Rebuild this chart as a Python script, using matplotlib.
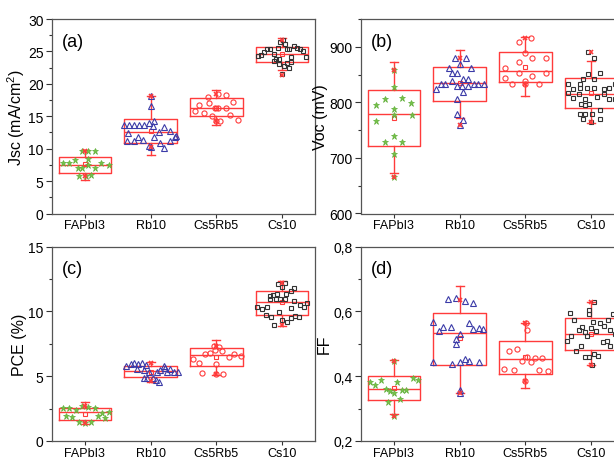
import matplotlib
matplotlib.use("Agg")
import matplotlib.pyplot as plt
from matplotlib.ticker import AutoMinorLocator, MultipleLocator, FuncFormatter

plt.rcParams['font.family'] = ['Liberation Sans', 'DejaVu Sans']
plt.rcParams['mathtext.default'] = 'regular'

categories = ["FAPbI3", "Rb10", "Cs5Rb5", "Cs10"]

# ---------------- Jsc ----------------
jsc_fa = [7.72, 7.72, 8.18, 8.39, 7.82, 7.46, 6.95, 6.95, 6.95, 7.51, 9.68, 9.68, 9.68, 5.82, 5.92, 5.82]
jsc_rb = [18.17, 16.52, 13.64, 13.64, 13.64, 13.64, 13.64, 13.95, 14.26, 13.43, 13.28, 12.35, 12.51,
          12.76, 11.99, 11.73, 11.73, 11.73, 11.22, 11.22, 11.32, 11.22, 10.45, 10.86, 10.09, 10.19]
jsc_csrb = [16.73, 15.85, 15.44, 18.01, 16.98, 16.26, 16.26, 18.22, 16.26, 17.14, 15.18, 15.03, 14.26, 14.46, 14.26, 18.37]
jsc_cs = [24.3, 24.5, 24.9, 25.3, 25.4, 24.6, 23.9, 23.5, 25.5, 26.5, 26.8, 26.1, 25.3, 25.4, 24.1, 23.3,
          25.9, 25.6, 25.4, 25.0, 24.1, 23.2, 22.5, 22.8, 23.1, 23.8, 21.5]
jsc_q1 = [6.28, 10.81, 14.98, 23.31]
jsc_med = [7.51, 12.51, 16.26, 24.6]
jsc_q3 = [8.75, 14.56, 17.76, 25.73]
jsc_lo = [5.15, 9.06, 13.7, 22.1]
jsc_hi = [9.83, 18.2, 19.0, 27.0]
jsc_mean = [7.6, 12.7, 16.3, 24.6]
jsc_min = [5.8, 10.2, 14.26, 21.4]
jsc_max = [9.7, 18.2, 18.4, 26.7]

# ---------------- Voc ----------------
voc_fa = [858, 828, 796, 806, 808, 799, 788, 778, 767, 778, 740, 728, 728, 707, 666]
voc_rb = [879, 879, 869, 862, 862, 853, 853, 838, 842, 842, 824, 833, 833, 829, 829, 829, 833, 833, 833,
          818, 806, 779, 769, 759]
voc_csrb = [908, 916, 888, 872, 879, 879, 862, 852, 848, 852, 843, 833, 839, 833, 833]
voc_cs = [890, 880, 851, 853, 833, 833, 842, 842, 824, 825, 825, 825, 824, 825, 833, 816, 815, 815, 807,
          806, 809, 806, 806, 797, 795, 797, 787, 779, 779, 779, 770, 770, 765]
voc_q1 = [721.8, 802.2, 837, 790]
voc_med = [778.2, 834, 856, 815]
voc_q3 = [821.4, 862.8, 890, 844]
voc_lo = [672, 771.6, 811, 762]
voc_hi = [871.8, 894, 917, 875]
voc_mean = [771.6, 835, 864, 816]
voc_min = [666, 759, 833, 765]
voc_max = [858, 879, 916, 890]

# ---------------- PCE ----------------
pce_fa = [2.52, 2.52, 2.39, 2.70, 2.60, 2.52, 1.96, 1.88, 1.44, 1.44, 2.19, 2.24, 1.93, 1.80, 1.36]
pce_rb = [5.79, 5.92, 5.99, 5.92, 5.99, 5.87, 5.56, 5.48, 5.35, 4.84, 4.84, 4.84, 4.71, 4.58, 5.35, 5.48,
          5.61, 5.79, 5.30, 5.56, 5.30, 5.30]
pce_csrb = [6.33, 5.99, 6.74, 6.82, 7.36, 7.23, 7.00, 6.95, 6.48, 6.74, 6.56, 5.27, 5.94, 5.15, 5.17]
pce_cs = [12.12, 12.22, 11.91, 11.78, 11.58, 11.19, 11.27, 11.32, 11.32, 10.93, 10.93, 10.93, 10.93, 10.81,
          10.50, 10.37, 10.63, 10.32, 10.19, 10.37, 9.98, 10.24, 9.72, 9.60, 8.95, 9.34, 9.21, 9.52, 9.67, 9.54]
pce_q1 = [1.65, 4.97, 5.76, 9.72]
pce_med = [2.21, 5.40, 6.64, 10.75]
pce_q3 = [2.52, 5.76, 7.15, 11.53]
pce_lo = [1.29, 4.58, 5.09, 8.9]
pce_hi = [3.0, 6.12, 7.8, 12.35]
pce_mean = [2.1, 5.3, 6.5, 10.7]
pce_min = [1.36, 4.6, 5.17, 8.95]
pce_max = [2.7, 6.0, 7.36, 12.22]

# ---------------- FF ----------------
ff_fa = [0.383, 0.373, 0.388, 0.360, 0.353, 0.347, 0.321, 0.381, 0.330, 0.357, 0.357, 0.393, 0.388, 0.447, 0.278]
ff_rb = [0.638, 0.640, 0.633, 0.627, 0.566, 0.538, 0.553, 0.553, 0.530, 0.563, 0.546, 0.549, 0.546, 0.516,
         0.499, 0.443, 0.437, 0.443, 0.452, 0.447, 0.443, 0.357, 0.349]
ff_csrb = [0.478, 0.483, 0.422, 0.448, 0.458, 0.445, 0.457, 0.457, 0.419, 0.415, 0.418, 0.543, 0.563, 0.385]
ff_cs = [0.594, 0.574, 0.604, 0.592, 0.592, 0.510, 0.525, 0.543, 0.553, 0.537, 0.524, 0.548, 0.540, 0.566,
         0.563, 0.556, 0.572, 0.543, 0.504, 0.507, 0.493, 0.493, 0.479, 0.460, 0.460, 0.467, 0.463, 0.530,
         0.435, 0.630]
ff_q1 = [0.327, 0.434, 0.407, 0.481]
ff_med = [0.36, 0.532, 0.452, 0.530]
ff_q3 = [0.40, 0.596, 0.507, 0.578]
ff_lo = [0.283, 0.349, 0.362, 0.435]
ff_hi = [0.45, 0.679, 0.565, 0.63]
ff_mean = [0.363, 0.517, 0.46, 0.53]
ff_min = [0.278, 0.349, 0.385, 0.435]
ff_max = [0.447, 0.635, 0.563, 0.630]

# ---------------- horizontal jitter (layout) ----------------
jx_jsc = [
    [-0.34, -0.24, -0.15, 0.05, 0.25, 0.36, -0.11, -0.04, 0.15, 0.05, -0.05, 0.04, 0.16, -0.09, 0.10, 0.02],
    [0.01, 0.01, -0.41, -0.33, -0.25, -0.18, -0.10, -0.03, 0.05, 0.04, 0.21, -0.35, 0.13, 0.29, 0.38, 0.37,
     -0.19, 0.05, -0.36, -0.26, -0.11, 0.29, -0.03, 0.14, 0.21, 0.01],
    [-0.26, -0.32, -0.19, -0.13, -0.11, -0.02, 0.02, 0.14, 0.14, 0.26, 0.21, -0.06, 0.06, 0.33, 0.0, 0.02],
    [-0.37, -0.32, -0.28, -0.23, -0.18, -0.13, -0.10, -0.13, -0.06, -0.03, 0.02, 0.04, 0.07, 0.10, 0.13, 0.14,
     0.18, 0.23, 0.27, 0.32, 0.37, 0.08, 0.10, 0.03, -0.05, -0.04, 0.0],
]
jx_voc = [
    [0, 0, -0.27, -0.13, 0.13, 0.26, 0, 0, -0.27, 0.27, 0, -0.13, 0.13, 0, 0],
    [-0.07, 0.09, 0, -0.16, 0.17, -0.11, -0.04, -0.11, 0.05, 0.13, -0.36, -0.29, -0.22, -0.04, 0.04, 0.13,
     0.22, 0.28, 0.37, 0.05, -0.04, -0.04, 0.05, 0],
    [-0.10, 0.09, 0, -0.10, 0.10, 0.31, -0.31, -0.10, 0.10, 0.31, -0.31, -0.20, 0, 0.20, 0],
    [-0.04, 0.05, -0.04, 0.14, -0.35, -0.17, -0.12, 0.05, -0.27, -0.17, -0.07, 0.05, 0.19, 0.27, 0.36, -0.35,
     -0.19, 0.19, -0.27, -0.09, 0.09, 0.27, 0.37, -0.15, -0.09, -0.03, 0.14, -0.17, -0.09, 0.01, -0.12, 0.14, 0],
]
jx_pce = [
    [-0.33, -0.24, -0.14, -0.05, 0.05, 0.16, -0.29, -0.19, -0.09, 0.10, 0.26, 0.36, 0.20, 0.30, 0],
    [-0.37, -0.30, -0.25, -0.19, -0.13, -0.07, -0.20, -0.10, -0.03, -0.10, -0.05, 0.03, 0.08, 0.13, 0.10, 0.15,
     0.22, 0.20, 0.25, 0.30, 0.36, 0.41],
    [-0.35, -0.26, -0.18, -0.09, -0.03, 0.04, -0.02, 0.09, 0.19, 0.27, 0.37, -0.22, 0, 0.10, 0],
    [-0.06, 0.05, 0, 0.18, 0.13, -0.19, -0.14, -0.08, 0.06, -0.18, -0.10, -0.03, 0.05, 0.18, 0.27, 0.33, 0.38,
     -0.38, -0.30, -0.23, -0.05, 0.13, -0.24, -0.17, -0.12, 0, 0.07, 0.14, 0.20, 0.25],
]
jx_ff = [
    [-0.37, -0.28, -0.19, -0.12, -0.06, 0, -0.09, 0.04, 0.09, 0.13, 0.19, 0.29, 0.36, 0, 0],
    [-0.18, -0.06, 0.08, 0.21, -0.40, -0.32, -0.26, -0.13, 0, 0.15, 0.21, 0.29, 0.36, -0.05, -0.05, -0.40,
     -0.12, 0.01, 0.08, 0.15, 0.29, 0, 0],
    [-0.25, -0.12, -0.32, -0.05, 0.02, 0.08, 0.15, 0.25, -0.18, 0.35, 0.21, 0.02, 0.01, 0],
    [-0.32, -0.26, -0.03, -0.03, 0.33, -0.36, -0.30, -0.19, -0.14, -0.10, -0.06, 0, 0.08, 0.03, 0.13, 0.19,
     0.26, 0.28, 0.18, 0.24, 0.28, -0.16, -0.23, -0.10, -0.03, 0.05, 0.10, 0.36, 0.02, 0.04],
]

RED = '#ff3b3b'
styles = [
    dict(marker='*', ms=5.0, mfc='#76c346', mec='#62b03c', mew=0.5, ls='none'),
    dict(marker='^', ms=3.9, mfc='none', mec='#3b3ba8', mew=0.8, ls='none'),
    dict(marker='o', ms=3.7, mfc='none', mec='#ff3b3b', mew=0.8, ls='none'),
    dict(marker='s', ms=3.4, mfc='none', mec='#333333', mew=0.8, ls='none'),
]

W, H = 614, 460
fig = plt.figure(figsize=(W / 100, H / 100), dpi=100)
left_x, right_x, aw = 52, 361, 263
top_y, bot_y, ah = 20, 247.5, 194.5


def add_ax(x, y):
    return fig.add_axes([x / W, 1 - (y + ah) / H, aw / W, ah / H])


ax_a = add_ax(left_x, top_y)
ax_b = add_ax(right_x, top_y)
ax_c = add_ax(left_x, bot_y)
ax_d = add_ax(right_x, bot_y)

positions = [1, 2, 3, 4]


def draw_panel(ax, groups, jit, q1, med, q3, lo, hi, mean, mn, mx, ylim, major, ylabel, tag, comma=False):
    stats = []
    for i in range(4):
        stats.append(dict(q1=q1[i], med=med[i], q3=q3[i], whislo=lo[i], whishi=hi[i], mean=mean[i], fliers=[]))
    lp = dict(color=RED, linewidth=1.0)
    ax.bxp(stats, positions=positions, widths=0.8, capwidths=0.12, showmeans=True, showfliers=False,
           boxprops=lp, medianprops=lp, whiskerprops=lp, capprops=lp,
           meanprops=dict(marker='s', markersize=3.2, markerfacecolor='none', markeredgecolor=RED,
                          markeredgewidth=0.8),
           manage_ticks=False, zorder=2)
    for i, vals in enumerate(groups):
        xs = [positions[i] + d for d in jit[i]]
        ax.plot(xs, vals, zorder=3, **styles[i])
    ax.plot(positions, mn, ls='none', marker='x', ms=3.0, mew=1.2, color=RED, zorder=4)
    ax.plot(positions, mx, ls='none', marker='x', ms=3.0, mew=1.2, color=RED, zorder=4)

    ax.set_xlim(0.5, 4.5)
    ax.set_ylim(*ylim)
    ax.set_xticks(positions)
    ax.set_xticklabels(categories)
    ax.yaxis.set_major_locator(MultipleLocator(major))
    ax.yaxis.set_minor_locator(AutoMinorLocator(2))
    if comma:
        ax.yaxis.set_major_formatter(FuncFormatter(lambda v, p: ('%.1f' % v).replace('.', ',')))
    ax.tick_params(axis='y', which='major', direction='out', length=4, width=0.8, labelsize=10,
                   colors='#333333', labelcolor='black', right=False, pad=2)
    ax.tick_params(axis='x', which='major', direction='out', length=3, width=0.8, labelsize=9,
                   colors='#333333', labelcolor='black', top=False, pad=1)
    ax.tick_params(axis='y', which='minor', direction='out', length=2.5, width=0.8, colors='#333333')
    ax.tick_params(axis='x', which='minor', bottom=False)
    for s in ax.spines.values():
        s.set_color('#555555')
        s.set_linewidth(0.9)
    ax.set_ylabel(ylabel, fontsize=11.5, labelpad=1)
    ax.text(0.038, 0.885, tag, transform=ax.transAxes, fontsize=13, ha='left', va='center')


draw_panel(ax_a, [jsc_fa, jsc_rb, jsc_csrb, jsc_cs], jx_jsc, jsc_q1, jsc_med, jsc_q3, jsc_lo, jsc_hi,
           jsc_mean, jsc_min, jsc_max, (0, 30), 5, 'Jsc (mA/cm$^2$)', '(a)')
draw_panel(ax_b, [voc_fa, voc_rb, voc_csrb, voc_cs], jx_voc, voc_q1, voc_med, voc_q3, voc_lo, voc_hi,
           voc_mean, voc_min, voc_max, (600, 950), 100, 'Voc (mV)', '(b)')
draw_panel(ax_c, [pce_fa, pce_rb, pce_csrb, pce_cs], jx_pce, pce_q1, pce_med, pce_q3, pce_lo, pce_hi,
           pce_mean, pce_min, pce_max, (0, 15), 5, 'PCE (%)', '(c)')
draw_panel(ax_d, [ff_fa, ff_rb, ff_csrb, ff_cs], jx_ff, ff_q1, ff_med, ff_q3, ff_lo, ff_hi,
           ff_mean, ff_min, ff_max, (0.2, 0.8), 0.2, 'FF', '(d)', comma=True)

fig.savefig('out.png', dpi=100)
